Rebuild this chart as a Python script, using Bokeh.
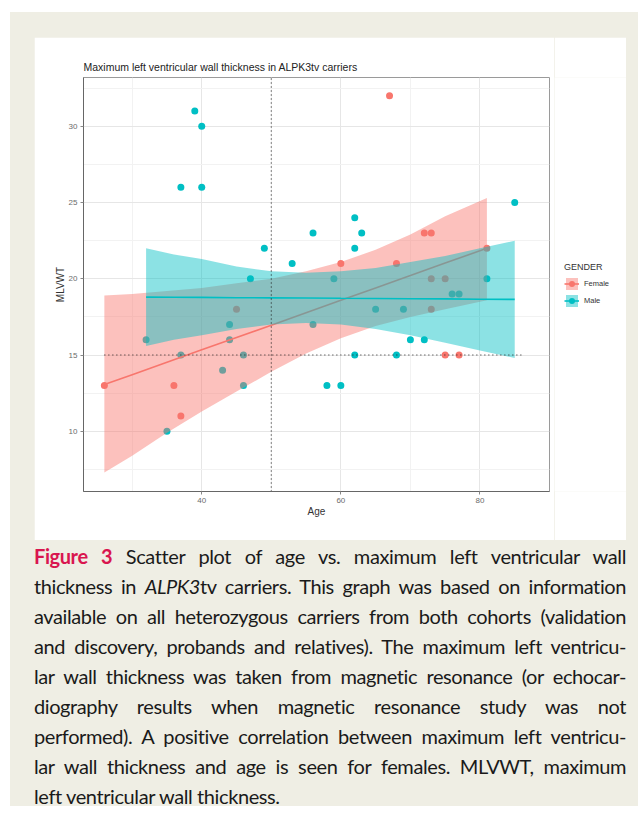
from bokeh.plotting import figure
from bokeh.models import (ColumnDataSource, FixedTicker, Legend, LegendItem, Div, Range1d)
from bokeh.layouts import column, row
from bokeh.embed import file_html
from bokeh.resources import INLINE

# ---------------- data ----------------
female_age = [26, 36, 37, 45, 60, 67, 68, 72, 73, 73, 73, 75, 75, 77, 81]
female_mlvwt = [13, 13, 11, 18, 21, 32, 21, 23, 23, 20, 18, 20, 15, 15, 22]

male_age = [32, 35, 37, 37, 39, 40, 40, 43, 44, 44, 46, 46, 47, 49, 53, 56, 56,
            58, 59, 60, 62, 62, 62, 63, 65, 68, 69, 70, 72, 76, 77, 81, 85]
male_mlvwt = [16, 10, 15, 26, 31, 30, 26, 14, 17, 16, 15, 13, 20, 22, 21, 23, 17,
              13, 20, 13, 24, 22, 15, 23, 18, 15, 18, 16, 16, 19, 19, 20, 25]

# linear fit and 95% band as drawn (read at sample ages)
female_fit_age = [26, 30, 35, 40, 45, 50, 55, 60, 65, 70, 75, 81]
female_fit = [13.06, 13.71, 14.52, 15.34, 16.15, 16.96, 17.78, 18.59, 19.40, 20.21, 21.03, 22.0]
female_lo = [7.3, 8.4, 9.9, 11.3, 12.6, 13.9, 15.1, 16.1, 16.9, 17.5, 18.0, 18.6]
female_hi = [18.9, 19.0, 19.2, 19.4, 19.7, 20.0, 20.5, 21.1, 21.9, 22.9, 24.1, 25.3]

male_fit_age = [32, 36, 40, 45, 50, 55, 60, 65, 70, 75, 80, 85]
male_fit = [18.80, 18.79, 18.78, 18.76, 18.75, 18.74, 18.72, 18.71, 18.69, 18.68, 18.66, 18.65]
male_lo = [15.6, 16.0, 16.3, 16.7, 17.0, 17.1, 17.0, 16.7, 16.3, 15.8, 15.3, 14.8]
male_hi = [22.0, 21.6, 21.3, 20.8, 20.5, 20.4, 20.5, 20.7, 21.1, 21.5, 22.0, 22.5]

ref_age = 50
ref_mlvwt = 15
ref_h_span = [26, 86]

x_ticks = [40, 60, 80]
x_minor = [30, 50, 70, 90]
y_ticks = [10, 15, 20, 25, 30]
y_minor = [7.5, 12.5, 17.5, 22.5, 27.5, 32.5]

legend_title = "GENDER"
legend_labels = ["Female", "Male"]

FEMALE = "#F8766D"
MALE = "#00BFC4"
FONT = "Liberation Sans"
BAND_ALPHA = 0.45

# ---------------- chart ----------------
p = figure(width=520, height=503, output_backend="svg", toolbar_location=None,
           x_range=Range1d(23, 90), y_range=Range1d(6.05, 33.2),
           min_border_left=49, min_border_right=5, min_border_top=40, min_border_bottom=49,
           margin=(25, 0, 0, 24),
           background_fill_color="white", border_fill_color="white",
           outline_line_color="#9a9a9a", outline_line_width=1)

p.title.text = "Maximum left ventricular wall thickness in ALPK3tv carriers"
p.title.text_font = FONT
p.title.text_font_size = "10.5px"
p.title.text_font_style = "normal"
p.title.text_color = "#222222"
p.title.align = "left"
p.title.standoff = 9
p.title.offset = 0

# grids
p.xgrid.ticker = FixedTicker(ticks=x_ticks, minor_ticks=x_minor)
p.ygrid.ticker = FixedTicker(ticks=y_ticks, minor_ticks=y_minor)
for g in (p.xgrid, p.ygrid):
    g.grid_line_color = "#e6e6e6"
    g.grid_line_width = 1
    g.minor_grid_line_color = "#f2f2f2"
    g.minor_grid_line_width = 1

# axes
p.xaxis.ticker = FixedTicker(ticks=x_ticks)
p.yaxis.ticker = FixedTicker(ticks=y_ticks)
p.xaxis.axis_label = "Age"
p.yaxis.axis_label = "MLVWT"
for ax in (p.xaxis[0], p.yaxis[0]):
    ax.axis_line_color = "#666666"
    ax.axis_line_width = 1
    ax.major_tick_line_color = "#888888"
    ax.major_tick_in = 0
    ax.major_tick_out = 3
    ax.minor_tick_line_color = None
    ax.major_label_text_font = FONT
    ax.major_label_text_font_size = "8px"
    ax.major_label_text_color = "#6b6b6b"
    ax.major_label_standoff = 3
    ax.axis_label_text_font = FONT
    ax.axis_label_text_font_size = "10px"
    ax.axis_label_text_font_style = "normal"
    ax.axis_label_text_color = "#333333"
    ax.axis_label_standoff = 0

# layers: points, then smooth bands/lines, then reference lines
fsrc = ColumnDataSource(dict(x=female_age, y=female_mlvwt))
msrc = ColumnDataSource(dict(x=male_age, y=male_mlvwt))
p.scatter("x", "y", source=fsrc, size=7, color=FEMALE, line_color=None)
p.scatter("x", "y", source=msrc, size=7, color=MALE, line_color=None)

ffit = ColumnDataSource(dict(x=female_fit_age, y=female_fit, lo=female_lo, hi=female_hi))
mfit = ColumnDataSource(dict(x=male_fit_age, y=male_fit, lo=male_lo, hi=male_hi))

p.varea(x="x", y1="lo", y2="hi", source=ffit, fill_color=FEMALE, fill_alpha=BAND_ALPHA)
p.line("x", "y", source=ffit, line_color=FEMALE, line_width=1.6)
p.varea(x="x", y1="lo", y2="hi", source=mfit, fill_color=MALE, fill_alpha=BAND_ALPHA)
p.line("x", "y", source=mfit, line_color=MALE, line_width=1.6)

p.line([ref_age, ref_age], [6.05, 33.2], line_color="#222222", line_width=1.1, line_dash="1 3")
p.line(ref_h_span, [ref_mlvwt, ref_mlvwt], line_color="#222222", line_width=1.1, line_dash="1 3")

# ---------------- legend (in its own narrow panel, continuing the white box) ----------------
lf = figure(width=72, height=503, output_backend="svg", toolbar_location=None,
            x_range=Range1d(0, 1), y_range=Range1d(0, 1),
            min_border=0, margin=(25, 12, 0, 0),
            background_fill_color="white", border_fill_color="white",
            outline_line_color=None)
lf.axis.visible = False
lf.grid.visible = False
items = []
for lab, col in zip(legend_labels, [FEMALE, MALE]):
    # key-only renderers: their single row lies outside this panel's ranges, so only the legend key shows
    key = ColumnDataSource(dict(x=[5, 6], y=[5, 5], lo=[5, 5], hi=[6, 6], size=[7, 7]))
    b = lf.varea(x="x", y1="lo", y2="hi", source=key, fill_color=col, fill_alpha=BAND_ALPHA)
    l = lf.line("x", "y", source=key, line_color=col, line_width=1.6)
    s = lf.scatter("x", "y", source=key, size="size", color=col, line_color=None)
    items.append(LegendItem(label=lab, renderers=[b, l, s]))

legend = Legend(items=items, title=legend_title, location=(10, 183), orientation="vertical",
                border_line_color=None, background_fill_alpha=0,
                margin=0, padding=10, spacing=2,
                glyph_width=15, glyph_height=15, label_standoff=5,
                label_text_font=FONT, label_text_font_size="7.5px", label_text_color="#333333",
                title_text_font=FONT, title_text_font_size="9px", title_text_color="#333333",
                title_text_font_style="normal", title_standoff=4)
lf.add_layout(legend)

# ---------------- caption ----------------
caption_lines = [
    '<b style="color:#D9164F">Figure 3</b> Scatter plot of age vs. maximum left ventricular wall',
    'thickness in <i>ALPK3</i>tv carriers. This graph was based on information',
    'available on all heterozygous carriers from both cohorts (validation',
    'and discovery, probands and relatives). The maximum left ventricu-',
    'lar wall thickness was taken from magnetic resonance (or echocar-',
    'diography results when magnetic resonance study was not',
    'performed). A positive correlation between maximum left ventricu-',
    'lar wall thickness and age is seen for females. MLVWT, maximum',
    'left ventricular wall thickness.',
]
parts = []
for i, ln in enumerate(caption_lines):
    last = "left" if i == len(caption_lines) - 1 else "justify"
    parts.append('<div style="text-align:justify;text-align-last:%s;white-space:nowrap;">%s</div>' % (last, ln))
caption_html = ('<div style="font-family:Lato, sans-serif;font-size:20px;letter-spacing:-0.4px;'
                'line-height:30px;color:#1a1a1a;width:592px;padding-top:1px;">' + "".join(parts) + '</div>')
cap = Div(text=caption_html, width=592, height=266, margin=(0, 12, 0, 24))

page = column(row(p, lf), cap, margin=(12, 0, 0, 10), styles={"background-color": "#EFEEE4"})

open("out.html", "w").write(file_html(page, INLINE))
